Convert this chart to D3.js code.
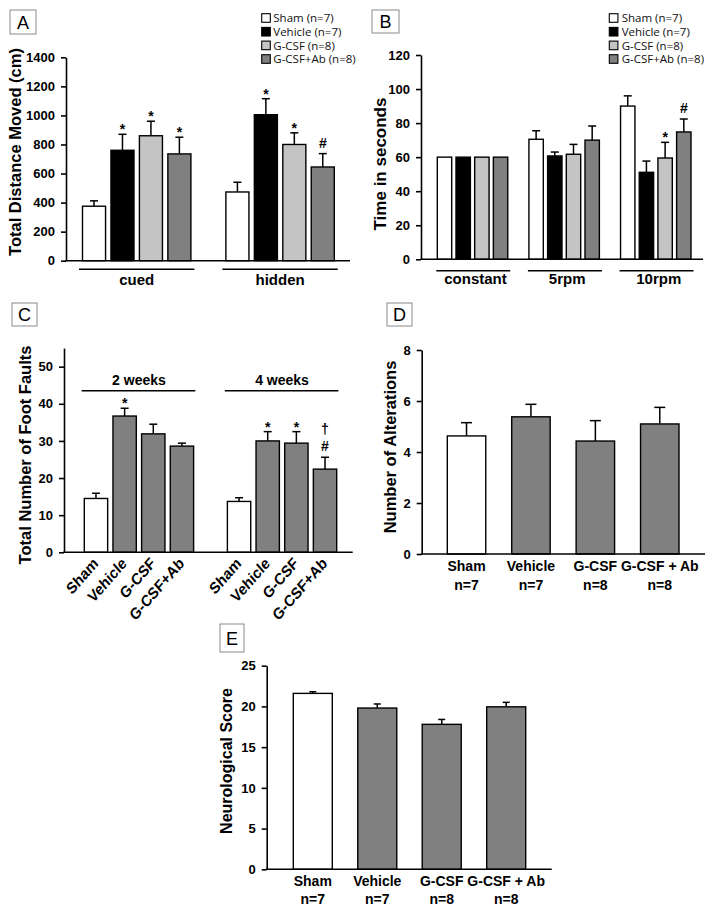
<!DOCTYPE html>
<html><head><meta charset="utf-8">
<script src="https://cdn.jsdelivr.net/npm/d3@7"></script>
<style>
body{margin:0;background:#fff;}
svg text{font-family:"Liberation Sans",Arial,sans-serif;}
</style></head><body>
<svg id="c" width="714" height="910"></svg>
<script>
// ---------- DATA ----------
const groupNames = ["Sham","Vehicle","G-CSF","G-CSF+Ab"];
const legendLabels = ["Sham (n=7)","Vehicle (n=7)","G-CSF (n=8)","G-CSF+Ab (n=8)"];
const groupColors = ["#ffffff","#000000","#c4c4c4","#808080"];

const aCategories = ["cued","hidden"];
const aMeans = [[375,760,860,735],[473,1005,800,645]];
const aSem = [[37,110,100,115],[67,110,80,92]];
const aMarks = [["","*","*","*"],["","*","*","#"]];
const aTicks = [0,200,400,600,800,1000,1200,1400];

const bCategories = ["constant","5rpm","10rpm"];
const bMeans = [[60,60,60,60],[70.5,60.7,61.7,70],[90,51.1,59.5,74.8]];
const bSem = [[0,0,0,0],[5,2.3,5.8,8.3],[6,6.6,9.2,7.6]];
const bMarks = [["","","",""],["","","",""],["","","*","#"]];
const bTicks = [0,20,40,60,80,100,120];

const cCategories = ["2 weeks","4 weeks"];
const cMeans = [[14.5,36.7,31.9,28.6],[13.7,30,29.4,22.4]];
const cSem = [[1.4,2.1,2.6,0.8],[1.0,2.5,3.1,3.2]];
const cMarks = [["","*","",""],["","*","*","†#"]];
const cTicks = [0,10,20,30,40,50];
const cColors = ["#ffffff","#808080","#808080","#808080"];

const dLabels = ["Sham","Vehicle","G-CSF","G-CSF + Ab"];
const dN = ["n=7","n=7","n=8","n=8"];
const dMeans = [4.63,5.38,4.43,5.1];
const dSem = [0.52,0.49,0.8,0.65];
const dTicks = [0,2,4,6,8];

const eMeans = [21.6,19.8,17.8,19.95];
const eSem = [0.2,0.5,0.6,0.55];
const eTicks = [0,5,10,15,20,25];

// ---------- DRAW ----------
const svg = d3.select("#c");
const FONT = '"Liberation Sans",Arial,sans-serif';

function panelLabel(letter, x, y, w, h){
  svg.append("rect").attr("x",x).attr("y",y).attr("width",w).attr("height",h)
    .attr("fill","#fff").attr("stroke","#8a8a8a").attr("stroke-width",1);
  svg.append("text").attr("x",x+w/2).attr("y",y+h/2+6.5).attr("text-anchor","middle")
    .attr("font-size",18).text(letter);
}

function yAxis(y, ax, ticks, fs){
  const g = svg.append("g").attr("transform",`translate(${ax},0)`)
    .call(d3.axisLeft(y).tickValues(ticks).tickSize(5).tickSizeOuter(0).tickPadding(6).tickFormat(d3.format("d")));
  g.select(".domain").attr("stroke","#000").attr("stroke-width",1.6);
  g.selectAll(".tick line").attr("stroke","#000").attr("stroke-width",1.6);
  g.selectAll(".tick text").attr("font-size",fs).attr("font-weight","bold").attr("font-family",FONT).attr("fill","#000");
  return g;
}
function xLine(ax, xEnd, yy){
  svg.append("line").attr("x1",ax-0.8).attr("x2",xEnd).attr("y1",yy).attr("y2",yy)
    .attr("stroke","#000").attr("stroke-width",1.6);
}
function yTitle(text, x, cy, fs){
  svg.append("text").attr("transform",`translate(${x},${cy}) rotate(-90)`)
    .attr("text-anchor","middle").attr("font-size",fs).attr("font-weight","bold").text(text);
}
function errBar(cx, y, mean, sem, capW){
  if(sem<=0) return;
  const top = y(mean+sem);
  svg.append("line").attr("x1",cx).attr("x2",cx).attr("y1",y(mean)).attr("y2",top)
    .attr("stroke","#000").attr("stroke-width",1.5);
  svg.append("line").attr("x1",cx-capW/2).attr("x2",cx+capW/2).attr("y1",top).attr("y2",top)
    .attr("stroke","#000").attr("stroke-width",1.5);
}
function marks(cx, topY, str){
  let base = topY;
  const chars = str.split("").reverse();
  chars.forEach((ch,i)=>{
    let b;
    if(ch==="*"){ b = base; base = b-12; }
    else if(ch==="#"){ b = base-6; base = b-11; }
    else { b = base-6; base = b-16; }
    svg.append("text").attr("x",cx).attr("y",b).attr("text-anchor","middle")
      .attr("font-size",14).attr("font-weight","bold").text(ch);
  });
}
function legend(bx, tx, rows){
  legendLabels.forEach((t,i)=>{
    svg.append("rect").attr("x",bx).attr("y",rows[i]-4.3).attr("width",8.6).attr("height",8.6)
      .attr("fill",groupColors[i]).attr("stroke","#000").attr("stroke-width",1.1);
    svg.append("text").attr("x",tx).attr("y",rows[i]+4.2).attr("font-size",11.5)
      .style("font-family",'"Open Sans",sans-serif').attr("fill","#111").text(t);
  });
}
function grouped(o){
  const y = d3.scaleLinear().domain(o.domain).range(o.yRange);
  const outer = d3.scaleBand().domain(o.cats).range(o.xRange).paddingInner(o.padOuter).paddingOuter(0);
  const inner = d3.scaleBand().domain(groupNames).range([0,outer.bandwidth()]).paddingInner(o.padInner).paddingOuter(0);
  o.cats.forEach((c,gi)=>{
    groupNames.forEach((n,i)=>{
      const x0 = outer(c)+inner(n), w = inner.bandwidth(), m = o.means[gi][i], s = o.sem[gi][i];
      svg.append("rect").attr("x",x0).attr("y",y(m)).attr("width",w).attr("height",y(0)-y(m))
        .attr("fill",o.colors[i]).attr("stroke","#000").attr("stroke-width",1.4);
      errBar(x0+w/2, y, m, s, o.capW);
      if(o.marks[gi][i]) marks(x0+w/2, y(m+s), o.marks[gi][i]);
    });
    // group underline
    svg.append("line").attr("x1",outer(c)-o.lineExt[0]).attr("x2",outer(c)+outer.bandwidth()+o.lineExt[1])
      .attr("y1",o.lineY).attr("y2",o.lineY).attr("stroke","#000").attr("stroke-width",1.5);
    svg.append("text").attr("x",outer(c)+outer.bandwidth()/2+o.labelDx).attr("y",o.labelY)
      .attr("text-anchor","middle").attr("font-size",o.labelFs).attr("font-weight","bold").text(c);
    if(o.rotLabels){
      groupNames.forEach((n,i)=>{
        const cx = outer(c)+inner(n)+inner.bandwidth()/2;
        svg.append("text").attr("transform",`translate(${cx+3},${y(0)+12}) scale(1,1.15) rotate(-45)`)
          .attr("text-anchor","end").attr("font-size",14).attr("font-weight","bold").text(n);
      });
    }
  });
  xLine(o.ax, o.xEnd, y(0));
  yAxis(y, o.ax, o.ticks, 13);
}
function simple(o){
  const y = d3.scaleLinear().domain(o.domain).range(o.yRange);
  const x = d3.scaleBand().domain(dLabels).range(o.xRange).paddingInner(o.pad).paddingOuter(0);
  dLabels.forEach((n,i)=>{
    const x0 = x(n), w = x.bandwidth(), m = o.means[i], s = o.sem[i];
    svg.append("rect").attr("x",x0).attr("y",y(m)).attr("width",w).attr("height",y(0)-y(m))
      .attr("fill",cColors[i]).attr("stroke","#000").attr("stroke-width",1.4);
    errBar(x0+w/2, y, m, s, o.capW);
    svg.append("text").attr("x",x0+w/2).attr("y",o.lab1).attr("text-anchor","middle")
      .attr("font-size",14).attr("font-weight","bold").text(n);
    svg.append("text").attr("x",x0+w/2).attr("y",o.lab2).attr("text-anchor","middle")
      .attr("font-size",14).attr("font-weight","bold").text(dN[i]);
  });
  xLine(o.ax, o.xEnd, y(0));
  yAxis(y, o.ax, o.ticks, 13);
}

// Panel A
panelLabel("A",10,10,26,24);
legend(261.7,273.3,[18,31.7,45.4,59]);
grouped({cats:aCategories, means:aMeans, sem:aSem, marks:aMarks, colors:groupColors,
  domain:[0,1400], yRange:[260.7,57.3], xRange:[82.5,334.3], padOuter:0.244, padInner:0.19,
  ax:66, xEnd:350, ticks:aTicks, capW:8, lineY:269.3, lineExt:[3.5,3.5], labelY:285, labelDx:0, labelFs:15});
yTitle("Total Distance Moved (cm)",21,152,16.5);

// Panel B
panelLabel("B",372,10,27,23);
legend(609.3,621.7,[18,31.7,45.4,59]);
grouped({cats:bCategories, means:bMeans, sem:bSem, marks:bMarks, colors:groupColors,
  domain:[0,120], yRange:[259.3,55], xRange:[437.3,691], padOuter:0.231, padInner:0.23,
  ax:421, xEnd:703, ticks:bTicks, capW:8, lineY:270.7, lineExt:[1,2.5], labelY:284, labelDx:3, labelFs:15});
yTitle("Time in seconds",386,164,17);

// Panel C
panelLabel("C",12,303,25,23);
grouped({cats:cCategories, means:cMeans, sem:cSem, marks:cMarks, colors:cColors,
  domain:[0,55], yRange:[552.3,348.1], xRange:[84.3,336.7], padOuter:0.236, padInner:0.185,
  ax:64, xEnd:352.7, ticks:cTicks, capW:8, lineY:390.7, lineExt:[2.6,1.7], labelY:385, labelDx:0, labelFs:14, rotLabels:true});
yTitle("Total Number of  Foot Faults",31,455,16.5);

// Panel D
panelLabel("D",387,303,25,23);
simple({means:dMeans, sem:dSem, domain:[0,8], yRange:[554,350], xRange:[447.3,679], pad:0.403,
  ax:421.7, xEnd:705, ticks:dTicks, capW:11, lab1:571, lab2:589.5});
yTitle("Number of Alterations",396,447,16.5);

// Panel E
panelLabel("E",220,624,24,28);
simple({means:eMeans, sem:eSem, domain:[0,25], yRange:[869.3,665.7], xRange:[293.3,525.7], pad:0.395,
  ax:266.7, xEnd:551.7, ticks:eTicks, capW:7, lab1:886, lab2:903.5});
yTitle("Neurological Score",232,761,16);
</script>
</body></html>
